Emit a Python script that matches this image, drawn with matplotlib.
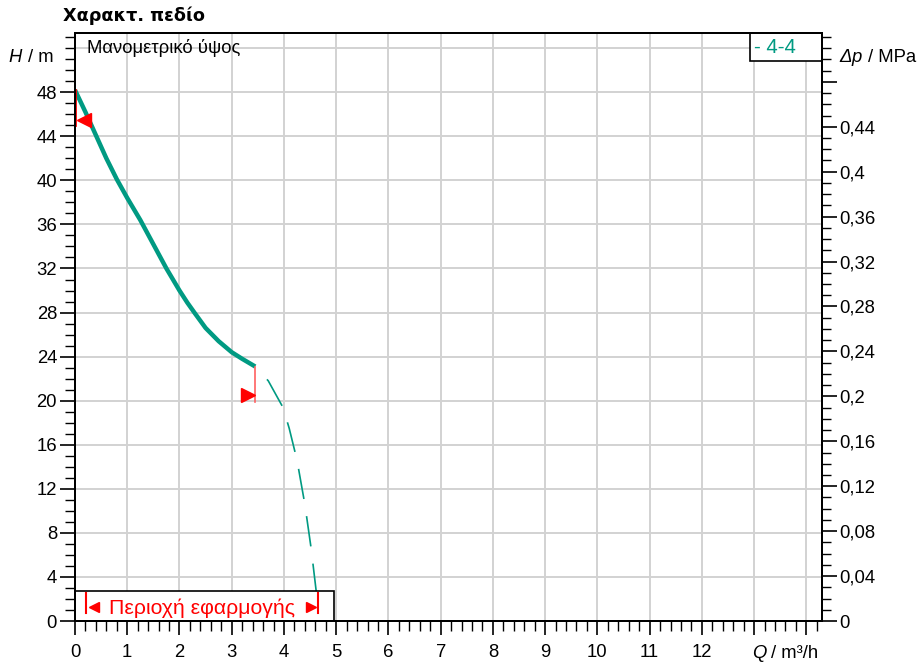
import matplotlib
matplotlib.use('Agg')
import matplotlib.pyplot as plt
from matplotlib.ticker import MultipleLocator, FixedLocator
from matplotlib.patches import Rectangle

plt.rcParams['font.family'] = ['Liberation Sans', 'DejaVu Sans']
plt.rcParams['lines.scale_dashes'] = False

# ---- data ----
q_solid = [0.0, 0.1, 0.2, 0.4, 0.6, 0.8, 1.0, 1.1, 1.25, 1.5, 1.75, 2.0, 2.15, 2.3, 2.5,
           2.75, 3.0, 3.2, 3.45]
h_solid = [48.2, 47.2, 46.2, 44.1, 42.0, 40.1, 38.4, 37.6, 36.4, 34.2, 32.0, 30.0, 28.9, 27.9,
           26.6, 25.4, 24.4, 23.8, 23.1]
q_ext = [3.45, 3.7, 3.98, 4.1, 4.25, 4.4, 4.52, 4.62, 4.66]
h_ext = [23.1, 21.8, 19.4, 17.5, 14.6, 10.6, 6.6, 2.6, 0.0]

x_ticks = list(range(0, 15))
x_labels = [str(v) for v in range(0, 13)] + ['', '']
h_ticks = list(range(0, 49, 4))
h_grid = list(range(4, 53, 4))
p_ticks = [0.0, 0.04, 0.08, 0.12, 0.16, 0.2, 0.24, 0.28, 0.32, 0.36, 0.4, 0.44, 0.48]
p_labels = ['0', '0,04', '0,08', '0,12', '0,16', '0,2', '0,24', '0,28', '0,32',
            '0,36', '0,4', '0,44', '']
M_PER_MPA = 101.97

title = 'Χαρακτ. πεδίο'
curve_title = 'Μανομετρικό ύψος'
legend_label = '- 4-4'
range_label = 'Περιοχή εφαρμογής'
range_start, range_end = 0.22, 4.66

TEAL = '#009a82'
RED = '#ff0000'
FS = 13.3

fig = plt.figure(figsize=(9.21, 6.65), dpi=100)
W, Hp = 921, 665
ax = fig.add_axes([75 / W, 44 / Hp, 747 / W, 587.7 / Hp])
ax.set_xlim(0, 14.3)
ax.set_ylim(0, 53.35)

# grid
for gx in x_ticks[1:]:
    ax.axvline(gx, color='#d2d2d2', lw=1.4, zorder=0)
for gy in h_grid:
    ax.axhline(gy, color='#d2d2d2', lw=1.4, zorder=0)

# curves
ax.plot(q_solid, h_solid, color=TEAL, lw=3.2, solid_capstyle='butt',
        solid_joinstyle='round', zorder=3)
ax.plot(q_ext, h_ext, color=TEAL, lw=1.2, linestyle=(22, (22, 12.5)), zorder=2)

# operating markers
ax.plot([0.0, 0.0], [48.2, 45.0], color=RED, lw=2, zorder=4, clip_on=False)
ax.plot([0.17], [45.5], marker='<', color=RED, markersize=10.5, zorder=5, clip_on=False)
ax.plot([q_solid[-1], q_solid[-1]], [h_solid[-1], 19.9], color='#ff6060', lw=1.2, zorder=4)
ax.plot([3.32], [20.5], marker='>', color=RED, markersize=10.5, zorder=5)

# application range box
ax.add_patch(Rectangle((0, 0), 4.95, 2.7, facecolor='white', edgecolor='black',
                       lw=1.2, zorder=6))
ax.plot([range_start, range_start], [0.7, 2.5], color=RED, lw=1.5, zorder=7)
ax.plot([range_end, range_end], [0.7, 2.5], color=RED, lw=1.5, zorder=7)
ax.plot([0.36], [1.25], marker='<', color=RED, markersize=6.5, zorder=7)
ax.plot([4.51], [1.25], marker='>', color=RED, markersize=6.5, zorder=7)
ax.text(2.44, 1.2, range_label, color=RED, fontsize=15.3, ha='center', va='center', zorder=8)

# texts inside axes
ax.text(0.016, 0.975, curve_title, transform=ax.transAxes, fontsize=FS,
        ha='left', va='center', zorder=8)
x0 = (750 - 75) / 747
y0 = (621 - 61) / 587.7
ax.add_patch(Rectangle((x0, y0), 1 - x0, 1 - y0, transform=ax.transAxes,
                       facecolor='white', edgecolor='black', lw=1.2, zorder=8, clip_on=False))
ax.text(x0 + 0.006, (y0 + 1) / 2, legend_label, transform=ax.transAxes, color=TEAL,
        fontsize=14.7, ha='left', va='center', zorder=9)

# spines
for s in ax.spines.values():
    s.set_linewidth(1.4)
    s.set_zorder(10)

# x axis
ax.xaxis.set_major_locator(FixedLocator(x_ticks))
ax.set_xticklabels(x_labels)
ax.xaxis.set_minor_locator(MultipleLocator(0.2))
ax.tick_params(axis='x', which='major', length=10, width=1.2, labelsize=FS, pad=6.5)
ax.tick_params(axis='x', which='minor', length=7, width=1.0)

# left axis
ax.yaxis.set_major_locator(FixedLocator(h_ticks))
ax.yaxis.set_minor_locator(MultipleLocator(1))
ax.tick_params(axis='y', which='major', length=10.5, width=1.2, labelsize=FS, pad=2.4)
ax.tick_params(axis='y', which='minor', length=7, width=1.0)

# right axis
ax2 = ax.twinx()
ax2.set_ylim(0, 53.35 / M_PER_MPA)
ax2.yaxis.set_major_locator(FixedLocator(p_ticks))
ax2.set_yticklabels(p_labels)
ax2.yaxis.set_minor_locator(MultipleLocator(0.01))
ax2.tick_params(axis='y', which='major', length=10.5, width=1.2, labelsize=FS, pad=2)
ax2.tick_params(axis='y', which='minor', length=6.5, width=1.0)
for s in ax2.spines.values():
    s.set_linewidth(1.4)

# axis labels
fig.text(8 / W, 1 - 57 / Hp, 'H', style='italic', fontsize=FS, ha='left', va='center')
fig.text(28 / W, 1 - 57 / Hp, '/ m', fontsize=FS, ha='left', va='center')
fig.text(839 / W, 1 - 57 / Hp, 'Δ', style='italic', fontsize=FS, ha='left', va='center')
fig.text(851 / W, 1 - 57 / Hp, 'p', style='italic', fontsize=FS, ha='left', va='center')
fig.text(868 / W, 1 - 57 / Hp, '/ MPa', fontsize=FS, ha='left', va='center')
fig.text(752 / W, 1 - 653 / Hp, 'Q', style='italic', fontsize=FS, ha='left', va='center')
fig.text(771 / W, 1 - 653 / Hp, '/ m³/h', fontsize=FS, ha='left', va='center')

fig.text(63 / W, 1 - 16 / Hp, title, family='DejaVu Sans', fontweight='bold',
         fontsize=12.7, ha='left', va='center')

fig.savefig('out.png', dpi=100)
